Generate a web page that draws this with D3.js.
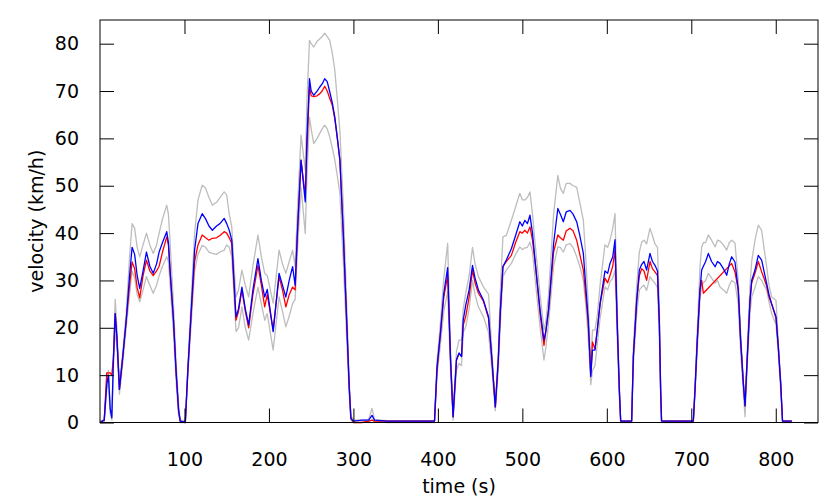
<!DOCTYPE html>
<html>
<head>
<meta charset="utf-8">
<script src="https://cdn.jsdelivr.net/npm/d3@7"></script>
<style>
  body { margin: 0; background: #fff; }
  text { font-family: "DejaVu Sans", sans-serif; }
</style>
</head>
<body>
<svg id="chart"></svg>
<script>
// Sample times (s)
const time = [
  0, 5, 8, 10, 12, 14, 16, 18, 20, 23, 27, 31, 35, 38, 41, 44, 47, 51, 55, 59,
  63, 67, 70, 74, 79, 81, 83, 87, 90, 93, 95, 101, 104, 108, 112, 116, 121, 125, 129, 133,
  138, 142, 147, 150, 153, 156, 158, 161, 164, 168, 172, 176, 181, 187, 191, 195, 198, 205, 212, 216,
  220, 224, 228, 231, 234, 238, 243, 245, 248, 250, 253, 257, 260, 263, 266, 269, 272, 275, 278, 281,
  284, 288, 292, 295, 297, 300, 310, 318, 322, 325, 340, 370, 396, 399, 403, 407, 411.6, 415, 418, 422,
  425, 428, 430, 433, 437, 441, 444, 448, 454, 460, 464, 468, 471.5, 474, 477, 481, 487, 492, 497, 500,
  503, 506, 509, 512, 515, 521, 525.6, 528, 531, 537, 542, 545, 548.5, 552, 556.4, 560, 564.3, 568, 572.2, 575,
  578, 581, 583, 586, 589, 592, 597.8, 601, 603.8, 607, 609.7, 612.3, 614.8, 616.4, 629.4, 631.4, 635.4, 638.5, 641.3, 644,
  647.1, 651.1, 654, 657, 660, 662.2, 663.7, 664.8, 702.4, 704.4, 707.1, 710.3, 712.3, 714.3, 717, 720.2, 724, 728.2, 731, 734,
  738, 741.9, 745, 747.8, 751.7, 755.6, 758.4, 761.6, 763.6, 766.3, 769.5, 771.5, 775.4, 779.3, 783.3, 786, 789.2, 792, 795.1, 800.3,
  803, 805.8, 808, 819
]

// Measured velocity (red); null where the record has a gap
const measured = [
  0, 0.5, 10.5, 10.5, 10.5, 10, 14, 23, 18, 7, 14, 21.5, 29, 33.9, 32.5, 28.5, 26.3, 31, 34.3, 32,
  31, 32, 33, 36, 39.2, 37.5, 32, 21.6, 11, 2.6, 0.3, 0, 11, 23, 34, 37.5, 39.6, 39, 38.5, 38.9,
  39, 39.5, 40.3, 40, 39, 37.8, 31, 21.6, 23.5, 28, 23.5, 20, 27, 33.2, 29, 24.4, 27, 19.5, 30.8, 28,
  24.4, 27, 28.6, 28, 41, 55.4, 48, 58, 71, 69, 68.8, 69, 69.4, 70, 71, 70, 68.4, 67, 64, 60,
  55.4, 40, 21.6, 7.6, 0.9, 0, 0, 0.3, 0.5, 0.3, 0.3, 0.3, 0.3, 11, 18.8, 26.5, 31, 13.2, 1.2, 13.2,
  14.5, 14, 20.5, 22.4, 26.5, 32.2, 29.5, 27.3, 25.6, 22, 13.2, 3.3, 13.2, 23.7, 32.9, 34, 35.3, 38, 40.3, 40,
  40.6, 40, 41.3, 38.5, 34, 23, 16.3, 19.5, 23.7, 36, 39.6, 39, 38.5, 40.5, 41, 40.5, 38.5, 35.5, 32.2, 27,
  21, 10, 17, 15.5, 20, 25, 30.5, 29.5, 31.1, 33, 36.4, 20.9, 6.9, 0.3, 0.3, 13.9, 25.8, 31, 32.5, 32,
  30, 34, 32.5, 31.8, 31, 20.9, 6.9, 0.3, 0.3, 6.9, 17.4, 28, 30, 27.3, null, null, null, null, null, null,
  null, null, null, 33.6, 31.8, 28, 17.4, 8.3, 3.5, 13.9, 25.8, 29.5, 31.5, 34, 31.8, 30.5, 28.8, 26.5, 25, 22,
  16, 8.3, 0.3, 0.3
]

// Model velocity (blue)
const model = [
  0, 0.5, 8, 10, 3, 1, 14, 23, 18, 7, 14, 21.5, 31, 37, 35.5, 31, 28.3, 32, 36, 33,
  31.5, 33.5, 36, 38, 40.3, 38, 32, 21.6, 11, 2.6, 0.3, 0, 11, 23.7, 36.4, 42, 44.1, 43, 41.5, 40.6,
  41.5, 42, 43.1, 42, 40.6, 38.5, 32, 22.3, 24, 28.6, 24, 20.6, 28, 34.6, 30, 26.5, 28.1, 19.2, 31.5, 29,
  26.5, 30, 32.9, 29, 41.3, 55.4, 46.6, 60, 72.6, 70, 69.1, 70, 70.8, 71.5, 72.6, 72, 69.8, 67.5, 64.5, 60,
  55.4, 39.9, 21.6, 7.6, 0.9, 0.3, 0.5, 0.5, 1.5, 0.5, 0.3, 0.3, 0.3, 11.8, 18.8, 27.3, 32.7, 13.2, 1.2, 13.2,
  14.7, 13.9, 21.6, 24.8, 28, 33.2, 30.5, 28, 25.8, 22.3, 13.2, 3.3, 13.2, 23.7, 32.9, 34.3, 36.7, 39.5, 42.4, 41.5,
  42.7, 42, 43.8, 40, 34.3, 23.7, 17.4, 19.5, 23.7, 37.8, 45.2, 44, 42.4, 44.5, 44.8, 44, 42.4, 39.5, 35.7, 29,
  21.6, 9.7, 15.3, 15.3, 20, 25.1, 32, 31.5, 33.6, 35, 38.6, 20.9, 6.9, 0.3, 0.3, 13.9, 25.8, 32.2, 33.4, 34,
  32.2, 35.7, 34, 33.2, 32, 20.9, 6.9, 0.3, 0.3, 6.9, 17.4, 28, 32.2, 33, 34, 35.7, 34, 32.9, 34, 33.6,
  32.5, 31.1, 33.5, 35, 33.9, 28, 17.4, 8.3, 3.5, 13.9, 25.8, 30, 32.2, 35.3, 34.3, 32, 29.4, 27, 25.1, 22.3,
  16, 8.3, 0.3, 0.3
]

// Upper and lower bounds (grey)
const upper = [
  0.4, 0.5, 9, 11, 4, 1.5, 15, 26, 20, 8, 15, 23, 35, 42, 41, 37, 35, 37.5, 40, 37.5,
  35.7, 37.5, 40, 43, 45.9, 44, 38, 25, 13, 4, 0.5, 0.4, 12, 26, 40, 47, 50.1, 49.5, 47.5, 45.9,
  46.5, 47.5, 48.7, 48, 44, 41.3, 35, 26.5, 28, 32.2, 29, 26.5, 33, 39.6, 35, 31.5, 31, 25.2, 36.4, 33.5,
  31.5, 34, 36.4, 33, 46, 60.7, 53.3, 68, 80.7, 80, 79.3, 80.5, 81, 81.5, 82.2, 81.5, 80.7, 78, 74.4, 68,
  61.7, 46, 25, 9, 1.5, 0.5, 0.5, 0.6, 3, 0.6, 0.4, 0.4, 0.4, 13, 21, 30.5, 37.8, 15, 2, 15,
  17.4, 17.4, 24, 27.3, 31, 37, 33.5, 30.8, 28.6, 27.1, 15, 3, 15, 28, 39.2, 39.5, 42.7, 45.5, 48.4, 47,
  47, 47.5, 48.7, 44, 38, 27, 19.5, 21.5, 27, 44, 52.2, 49.5, 48.4, 50.5, 50.5, 50, 49.7, 46.5, 42.7, 35,
  25, 12, 19.5, 19.5, 23, 29, 37.5, 37, 38.5, 41, 44.1, 24, 8, 0.4, 0.4, 15.5, 29, 36, 38.1, 38.5,
  37.7, 41, 39.5, 37.7, 37, 24, 8, 0.4, 0.4, 8, 19.5, 33, 37, 38, 38, 39.6, 38.5, 37.1, 38.5, 38.3,
  37.5, 36.4, 38, 38.5, 37.9, 30, 19, 9, 4, 15.5, 29, 34, 38.5, 41.7, 40.6, 37, 32.9, 29, 26.5, 25.8,
  17, 9, 0.4, 0.4
]

const lower = [
  0, 0, 7, 9, 2, 0.5, 12, 20, 16, 6, 12.5, 20, 27, 32, 30.5, 27, 25.5, 28, 30.8, 29,
  27.3, 29, 31, 33, 35, 34, 29, 19, 9, 1.5, 0, 0, 10, 21, 32, 35.5, 37.4, 37, 36, 35.7,
  35.5, 36, 36.4, 37.5, 37, 35, 29, 19.2, 20, 24.4, 20, 17.4, 23, 28.6, 25, 21.6, 23, 15.3, 26.5, 23.5,
  20.2, 22.5, 25.1, 26, 37, 49.7, 39.9, 52, 64.5, 62, 58.9, 60, 61, 62, 62.8, 62, 60.3, 58, 55.4, 52,
  48.4, 34, 18, 6, 0.5, 0, 0, 0.2, 0.5, 0.2, 0, 0, 0, 10, 16.5, 23.5, 27.6, 11, 0.5, 11,
  12.5, 12, 19, 20.2, 24, 30, 27, 24.4, 22.3, 19, 11, 2.5, 11, 21, 30.8, 32.2, 33.6, 35.5, 37.1, 36.5,
  36.9, 37, 38.1, 36, 30.5, 20, 13.2, 16, 21, 33, 37.1, 37, 36, 37.5, 37.8, 37, 35, 33, 30, 25,
  18, 8, 11, 12, 17, 22, 28.6, 28, 29.7, 30.5, 32.2, 18, 5.5, 0, 0, 12, 23, 28, 28.6, 29,
  27.9, 30.8, 30, 29.4, 28.5, 18, 5.5, 0, 0, 6, 15.5, 26, 29, 29.5, 30, 31.5, 30.5, 29.4, 30, 28.6,
  28, 27.3, 29, 30, 29.5, 25, 15, 6.5, 1.2, 12, 23, 26.5, 28.5, 30.8, 30, 29, 28, 25.5, 23, 20.7,
  14.5, 7, 0, 0
]

const xTicks = [100, 200, 300, 400, 500, 600, 700, 800]
const yTicks = [0, 10, 20, 30, 40, 50, 60, 70, 80]

const width = 830
const height = 496
const margin = { left: 100, right: 12, top: 20, bottom: 73.5 }

const svg = d3.select("#chart")
  .attr("width", width)
  .attr("height", height)

const x = d3.scaleLinear()
  .domain([0, 850])
  .range([margin.left, width - margin.right])

const y = d3.scaleLinear()
  .domain([0, 85])
  .range([height - margin.bottom, margin.top])

const series = [
  { values: upper, color: "#bdbdbd" },
  { values: lower, color: "#bdbdbd" },
  { values: measured, color: "#ff0000" },
  { values: model, color: "#0000ff" }
]

const line = d3.line()
  .x(d => x(d.t))
  .y(d => y(d.v))

series.forEach(s => {
  // skip missing samples so the line bridges the gap
  const pts = time.map((t, i) => ({ t, v: s.values[i] })).filter(d => d.v != null)
  svg.append("path")
    .datum(pts)
    .attr("fill", "none")
    .attr("stroke", s.color)
    .attr("stroke-width", 1.3)
    .attr("stroke-linejoin", "round")
    .attr("d", line)
})

// Axes with inward ticks, mirrored on top and right
const tickLen = 14
const x0 = x.range()[0], x1 = x.range()[1]
const y0 = y.range()[0], y1 = y.range()[1]

svg.append("g")
  .attr("transform", `translate(0, ${y0})`)
  .call(d3.axisBottom(x).tickValues(xTicks).tickSizeInner(-tickLen).tickSizeOuter(0).tickPadding(30))
  .call(g => g.select(".domain").remove())
  .call(g => g.selectAll("text").attr("font-size", 19).attr("fill", "#000").attr("font-family", "DejaVu Sans"))

svg.append("g")
  .attr("transform", `translate(0, ${y1})`)
  .call(d3.axisTop(x).tickValues(xTicks).tickSizeInner(-tickLen).tickSizeOuter(0).tickFormat(""))
  .call(g => g.select(".domain").remove())

svg.append("g")
  .attr("transform", `translate(${x0}, 0)`)
  .call(d3.axisLeft(y).tickValues(yTicks).tickSizeInner(-tickLen).tickSizeOuter(0).tickPadding(21))
  .call(g => g.select(".domain").remove())
  .call(g => g.selectAll("text").attr("font-size", 19).attr("fill", "#000").attr("font-family", "DejaVu Sans"))

svg.append("g")
  .attr("transform", `translate(${x1}, 0)`)
  .call(d3.axisRight(y).tickValues(yTicks).tickSizeInner(-tickLen).tickSizeOuter(0).tickFormat(""))
  .call(g => g.select(".domain").remove())

svg.selectAll(".tick line").attr("stroke", "#000")

svg.append("rect")
  .attr("x", x0)
  .attr("y", y1)
  .attr("width", x1 - x0)
  .attr("height", y0 - y1)
  .attr("fill", "none")
  .attr("stroke", "#000")
  .attr("stroke-width", 1)

svg.append("text")
  .attr("x", (x0 + x1) / 2)
  .attr("y", 493)
  .attr("text-anchor", "middle")
  .attr("font-size", 19)
  .text("time (s)")

svg.append("text")
  .attr("transform", `translate(43, ${(y0 + y1) / 2}) rotate(-90)`)
  .attr("text-anchor", "middle")
  .attr("font-size", 19)
  .text("velocity (km/h)")
</script>
</body>
</html>
